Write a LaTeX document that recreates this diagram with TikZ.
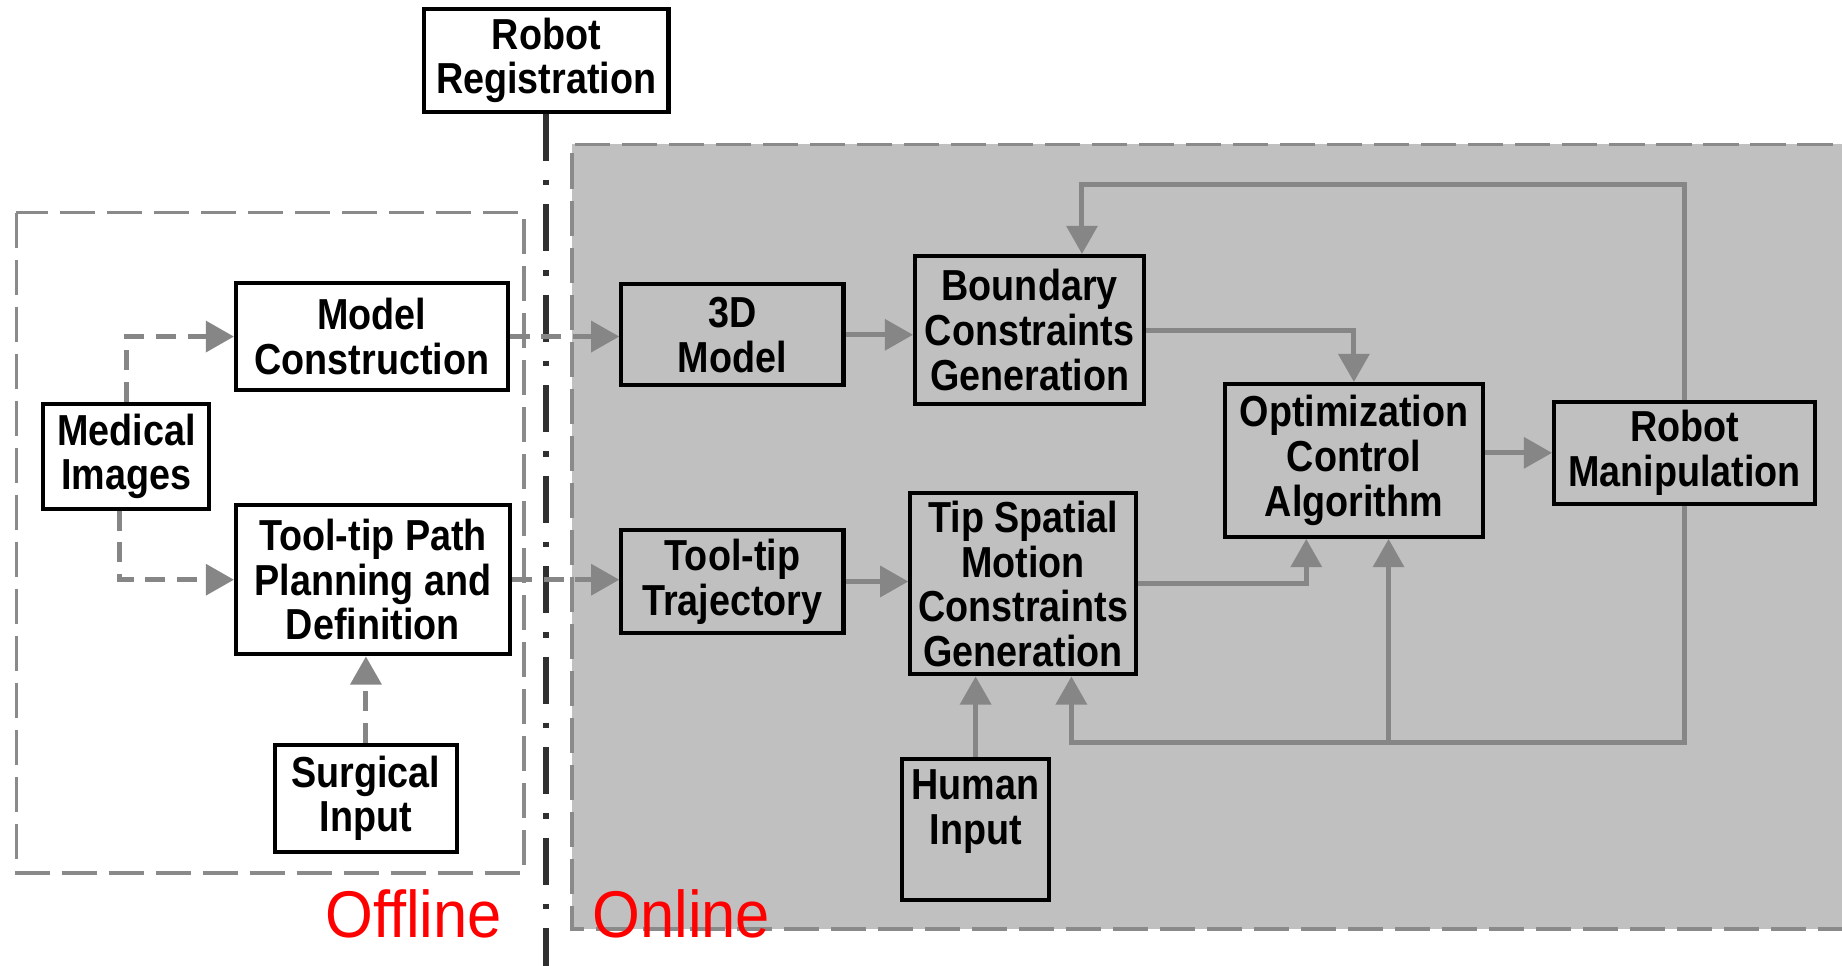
\documentclass[tikz,border=0pt]{standalone}
\usepackage{fontspec}
\usetikzlibrary{arrows.meta,calc}
\newfontfamily\boxfont{Liberation Sans}[FakeStretch=0.87]
\newfontfamily\redfont{Liberation Sans}[FakeStretch=0.93]
\definecolor{conngray}{HTML}{868686}
\definecolor{dashgray}{HTML}{8A8A8A}
\definecolor{onfill}{HTML}{C0C0C0}
\definecolor{divcol}{HTML}{303030}
\tikzset{
  box/.style={draw=black, line width=1pt, align=center, inner sep=0pt,
    font=\boxfont\bfseries\fontsize{10.5}{10.8}\selectfont},
  whitebox/.style={box, fill=white},
  graybox/.style={box, fill=onfill},
  conn/.style={draw=conngray, line width=1.2pt, -{Triangle[length=0.24cm,width=0.26cm]}},
  dconn/.style={conn, dash pattern=on 0.17cm off 0.1cm},
  regiondash/.style={draw=dashgray, line width=0.9pt, dash pattern=on 0.3cm off 0.1cm},
  divider/.style={draw=divcol, line width=1.5pt, dash pattern=on 0.4cm off 0.16cm on 0.05cm off 0.16cm},
  redtxt/.style={text=red, inner sep=0pt, font=\redfont\fontsize{16}{18}\selectfont}
}
\begin{document}
\begin{tikzpicture}[x=0.01cm, y=-0.01cm]
\useasboundingbox (0,0) rectangle (1568,822);
\fill[white] (0,0) rectangle (1568,822);
% online region
\fill[onfill] (487,123) rectangle (1600,791);
\draw[regiondash] (1600,123) -- (487,123) -- (487,791) -- (1600,791);
% offline region
\draw[regiondash] (14,181) rectangle (446,743);

% nodes
\node[whitebox, minimum width=2.08cm, minimum height=0.87cm] (reg) at (465,51.5) {Robot\\Registration};
\node[whitebox, minimum width=2.31cm, minimum height=0.91cm] (model) at (316.5,286.5) {Model\\Construction};
\node[whitebox, minimum width=1.41cm, minimum height=0.89cm] (med) at (107.5,388.5) {Medical\\Images};
\node[whitebox, minimum width=2.33cm, minimum height=1.27cm] (path) at (317.5,493.5) {Tool-tip Path\\Planning and\\Definition};
\node[whitebox, minimum width=1.55cm, minimum height=0.91cm] (surg) at (311.5,679.5) {Surgical\\Input};
\node[graybox, minimum width=1.89cm, minimum height=0.86cm] (m3d) at (623.5,285) {3D\\Model};
\node[graybox, minimum width=1.95cm, minimum height=1.26cm] (bound) at (876.5,281) {Boundary\\Constraints\\Generation};
\node[graybox, minimum width=2.19cm, minimum height=1.30cm] (opt) at (1152.5,392) {Optimization\\Control\\Algorithm};
\node[graybox, minimum width=2.22cm, minimum height=0.87cm] (manip) at (1434,385.5) {Robot\\Manipulation};
\node[graybox, minimum width=1.89cm, minimum height=0.88cm] (traj) at (623.5,495) {Tool-tip\\Trajectory};
\node[graybox, minimum width=1.92cm, minimum height=1.54cm] (tip) at (871,497) {Tip Spatial\\Motion\\Constraints\\Generation};
\node[graybox, minimum width=1.25cm, minimum height=1.20cm] (human) at (830.5,706) {Human\\Input\\\mbox{}};

% divider
\coordinate (divb) at (466,830);
\draw[divider] (reg.south) -- (reg.south |- divb);

% labels
\node[redtxt] (offl) at (352,778) {Offline};
\node[redtxt] (onl) at (580,778) {Online};

% connectors offline
\draw[dconn] (med.north) |- (model.west);
\draw[dconn] ([xshift=-0.06cm]med.south) |- (path.west);
\draw[dconn] (model.east) -- (model.east -| m3d.west);
\draw[dconn] (path.east) -- (path.east -| traj.west);
\draw[dconn] (surg.north) -- (surg.north |- path.south);

% connectors online
\draw[conn] (m3d.east) -- (m3d.east -| bound.west);
\draw[conn] (traj.east) -- (traj.east -| tip.west);
\draw[conn] (bound.east) -| (opt.north);
\draw[conn] (tip.east) -| ([xshift=-0.405cm]opt.south);
\draw[conn] (opt.east |- manip.west) -- (manip.west);
\coordinate (topy) at (0,157);
\coordinate (boty) at (0,632);
\draw[conn] (manip.north) -- (manip.north |- topy) -| ([xshift=0.445cm]bound.north);
\draw[conn] (manip.south) -- (manip.south |- boty) -| ([xshift=0.41cm]tip.south);
\draw[conn] ([xshift=0.295cm]opt.south |- boty) -- ([xshift=0.295cm]opt.south);
\draw[conn] (human.north) -- (human.north |- tip.south);
\end{tikzpicture}
\end{document}
